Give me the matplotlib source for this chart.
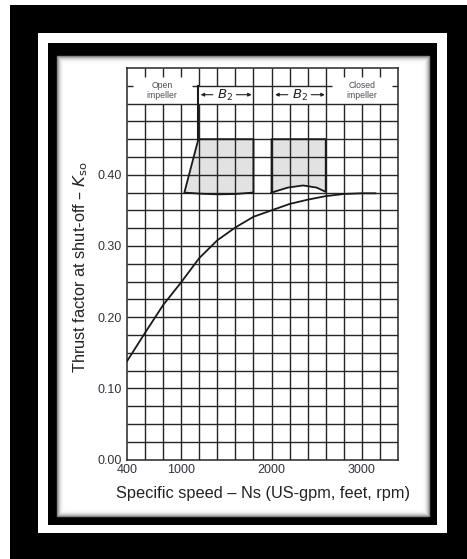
import numpy as np
import matplotlib.pyplot as plt
import matplotlib.patches as patches

plt.rcParams['font.family'] = ['Liberation Sans', 'DejaVu Sans']

# thrust factor curve
ns = [400, 600, 800, 1000, 1200, 1400, 1600, 1800, 2000, 2200, 2400, 2600, 2800, 3000, 3150]
kso = [0.138, 0.178, 0.217, 0.249, 0.283, 0.308, 0.326, 0.341, 0.350, 0.359, 0.365, 0.370, 0.373, 0.374, 0.374]

# B2 band for open impellers (slanted left side, sagging bottom)
open_x = [1190, 1035, 1200, 1400, 1600, 1800, 1800]
open_y = [0.45, 0.375, 0.3735, 0.3725, 0.373, 0.375, 0.45]

# B2 band for closed impellers (hump along the bottom)
closed_x = [2000, 2180, 2350, 2500, 2600]
closed_y = [0.375, 0.382, 0.385, 0.382, 0.376]
band_top = 0.45

xticks = [400, 1000, 2000, 3000]
yticks = [0.00, 0.10, 0.20, 0.30, 0.40]

W, H = 467, 559
fig = plt.figure(figsize=(W / 100, H / 100), dpi=100)


def px_rect(x0, y0, x1, y1, **kw):
    # rectangle given in image pixels (origin top-left)
    r = patches.Rectangle((x0 / W, 1 - y1 / H), (x1 - x0) / W, (y1 - y0) / H,
                          transform=fig.transFigure, zorder=-10, **kw)
    fig.add_artist(r)


# picture frame
px_rect(10, 5, 467, 559, facecolor='black', edgecolor='none')
px_rect(38, 33, 447, 533, facecolor='white', edgecolor='none')
px_rect(48, 43, 437, 525, facecolor='black', edgecolor='none')
px_rect(57, 56, 429, 516, facecolor='white', edgecolor='none')
# soft shadow inside the inner panel
for i, g in enumerate([0.5, 0.66, 0.78, 0.87, 0.93, 0.97, 0.99]):
    px_rect(57 + i, 56 + i, 429 - i, 516 - i, facecolor='none',
            edgecolor=(g, g, g), linewidth=1.0)

ax = fig.add_axes([127 / W, 1 - 459.5 / H, (398 - 127) / W, (459.5 - 68) / H])
ax.set_xlim(400, 3400)
ax.set_ylim(0, 0.55)

gc = '#262626'
glw = 1.0

# grid body
ax.hlines([0.025 * i for i in range(1, 21)], 400, 3400, color=gc, lw=glw, zorder=2)
ax.vlines(list(range(600, 3400, 200)), 0, 0.50, color=gc, lw=glw, zorder=2)

# header row
ax.hlines(0.525, 1190, 2600, color=gc, lw=glw, zorder=2)
for lo, hi in [(400, 470), (1120, 1190), (2600, 2670), (3330, 3400)]:
    ax.hlines(0.525, lo, hi, color=gc, lw=glw, zorder=2)
ax.vlines([600, 800, 1000, 2800, 3000, 3200], 0.538, 0.55, color=gc, lw=glw, zorder=2)
ax.vlines([1200, 1400, 1600, 2200, 2400], 0.525, 0.55, color=gc, lw=glw, zorder=2)
ax.vlines([1800, 2000, 2600], 0.50, 0.55, color=gc, lw=glw, zorder=2)

# B2 bands
ax.fill(open_x, open_y, color='#e2e2e2', zorder=1)
ax.plot(open_x + [open_x[0]], open_y + [open_y[0]], color='#1a1a1a', lw=1.3, zorder=3)
ax.plot([1190, 1190], [0.525, 0.45], color='#1a1a1a', lw=1.5, zorder=3)

cx = closed_x + [closed_x[-1], closed_x[0]]
cy = closed_y + [band_top, band_top]
ax.fill(cx, cy, color='#e2e2e2', zorder=1)
ax.plot(cx + [cx[0]], cy + [cy[0]], color='#1a1a1a', lw=1.3, zorder=3)

# main curve
ax.plot(ns, kso, color='#1a1a1a', lw=1.3, zorder=4)

# header labels
hdr = dict(ha='center', va='center', fontsize=6.2, color='#4a4a55', linespacing=1.15)
ax.text(790, 0.519, 'Open\nimpeller', **hdr)
ax.text(3000, 0.519, 'Closed\nimpeller', **hdr)

arr = dict(arrowstyle='-|>', lw=0.8, color='#222222', mutation_scale=5, shrinkA=0, shrinkB=0)
for lo, hi, mid in [(1215, 1780, 1480), (2040, 2590, 2310)]:
    ax.text(mid, 0.5115, r'$B_2$', ha='center', va='center', fontsize=9.5, color='#222222')
    ax.annotate('', xy=(lo, 0.5125), xytext=(mid - 130, 0.5125), arrowprops=arr)
    ax.annotate('', xy=(hi, 0.5125), xytext=(mid + 130, 0.5125), arrowprops=arr)

ax.set_xticks(xticks)
ax.set_xticklabels([str(t) for t in xticks])
ax.set_yticks(yticks)
ax.set_yticklabels(['%.2f' % t for t in yticks])
ax.tick_params(length=0, labelsize=9, labelcolor='#33333d', pad=3.5)
for s in ax.spines.values():
    s.set_color(gc)
    s.set_linewidth(1.1)

ax.set_xlabel('Specific speed – Ns (US-gpm, feet, rpm)', fontsize=11.8, color='#222222')
ax.set_ylabel(r'Thrust factor at shut-off – $K_{\mathrm{so}}$', fontsize=11.8, color='#222222')
ax.xaxis.set_label_coords(0.5, -0.068)
ax.yaxis.set_label_coords(-0.135, 0.49)

plt.savefig('out.png', dpi=100)
plt.close()
